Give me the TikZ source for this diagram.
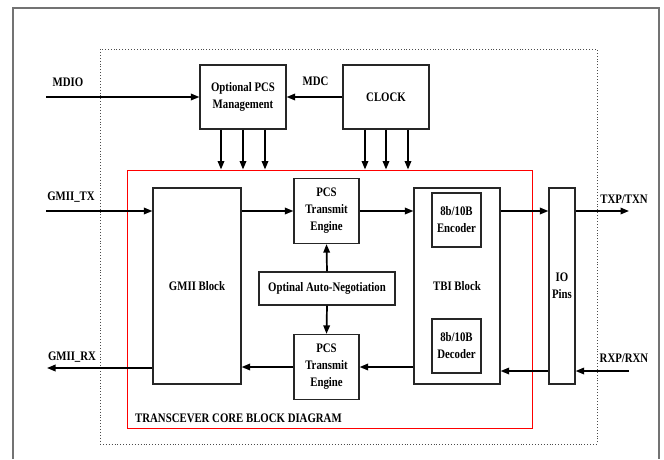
\documentclass[tikz,border=0pt]{standalone}
\usepackage{fontspec}
\newfontfamily\lbl{Liberation Serif}[FakeStretch=0.83]
\usetikzlibrary{arrows.meta,calc}
\begin{document}
\begin{tikzpicture}[x=1pt,y=-1pt,
  box/.style={draw=black!85,line width=1.2pt,rectangle,inner sep=1pt,align=center,font=\lbl\bfseries\fontsize{13}{17}\selectfont},
  lab/.style={inner sep=0pt,font=\lbl\bfseries\fontsize{13}{17}\selectfont},
  arr/.style={line width=1.7pt,-{Triangle[length=8.5pt,width=6.5pt]}}]
\useasboundingbox (0,0) rectangle (664,459);
\fill[white] (0,0) rectangle (664,459);
% outer frame
\draw[black!55,line width=1.3pt] (13,459) -- (13,8) -- (659,8) -- (659,459);
% dotted region
\node[draw=black!70,dotted,line width=0.9pt,minimum width=497pt,minimum height=395pt,inner sep=0pt] (outer) at (348.5,246.5) {};
% red core
\node[draw=red,line width=1pt,minimum width=405pt,minimum height=258pt,inner sep=0pt] (core) at (329.5,299) {};
% boxes
\node[box,minimum width=86pt,minimum height=64pt] (pcsm) at (243,97) {Optional PCS\\Management};
\node[box,minimum width=86pt,minimum height=64pt] (clock) at (386,97) {CLOCK};
\node[box,minimum width=88pt,minimum height=196pt] (gmii) at (197,286) {GMII Block};
\node[box,minimum width=65pt,minimum height=65pt] (pcst) at (326.5,211) {PCS\\Transmit\\Engine};
\node[box,minimum width=136pt,minimum height=33pt] (an) at (327,288.5) {Optinal Auto-Negotiation};
\node[box,minimum width=65pt,minimum height=65pt] (pcsr) at (326.5,367) {PCS\\Transmit\\Engine};
\node[box,minimum width=86pt,minimum height=196pt] (tbi) at (457,286) {TBI Block};
\node[box,minimum width=49pt,minimum height=54pt] (enc) at (456.5,220) {8b/10B\\Encoder};
\node[box,minimum width=49pt,minimum height=54pt] (dec) at (456.5,346) {8b/10B\\Decoder};
\node[box,minimum width=26pt,minimum height=196pt] (io) at (562,286) {IO\\Pins};
% labels
\node[lab] (lmdio) at (68,82) {MDIO};
\node[lab] (lmdc) at (315.5,81) {MDC};
\node[lab] (lgtx) at (71,197) {GMII\_TX};
\node[lab] (lgrx) at (72,357) {GMII\_RX};
\node[lab] (ltx) at (624,199) {TXP/TXN};
\node[lab] (lrx) at (624,358) {RXP/RXN};
\node[lab,anchor=west] (lcore) at (135,418) {TRANSCEVER CORE BLOCK DIAGRAM};
% free ends
\coordinate (mdio) at (46,97);
\coordinate (gtx) at (46,211);
\coordinate (grx) at (47,368);
\coordinate (txp) at (629,211);
\coordinate (rxp) at (629,371);
% connectors
\draw[arr] (mdio) -- (pcsm.west);
\draw[arr] (clock.west) -- (pcsm.east);
\foreach \d in {-22,0,22}
  \draw[arr] ([xshift=\d pt]pcsm.south) -- ([xshift=\d pt]pcsm.south |- core.north);
\foreach \d in {-21,0,22}
  \draw[arr] ([xshift=\d pt]clock.south) -- ([xshift=\d pt]clock.south |- core.north);
\draw[arr] (gtx) -- (gtx -| gmii.west);
\draw[arr] (gmii.east |- pcst.west) -- (pcst.west);
\draw[arr] (pcst.east) -- (pcst.east -| tbi.west);
\draw[arr] (tbi.east |- pcst.east) -- (io.west |- pcst.east);
\draw[arr] (io.east |- txp) -- (txp);
\draw[arr] (an.north) -- (pcst.south);
\draw[arr] (an.south) -- (pcsr.north);
\draw[arr] (pcsr.west) -- (pcsr.west -| gmii.east);
\draw[arr] (gmii.west |- grx) -- (grx);
\draw[arr] (tbi.west |- pcsr.east) -- (pcsr.east);
\draw[arr] (io.west |- rxp) -- (tbi.east |- rxp);
\draw[arr] (rxp) -- (io.east |- rxp);
\end{tikzpicture}
\end{document}
